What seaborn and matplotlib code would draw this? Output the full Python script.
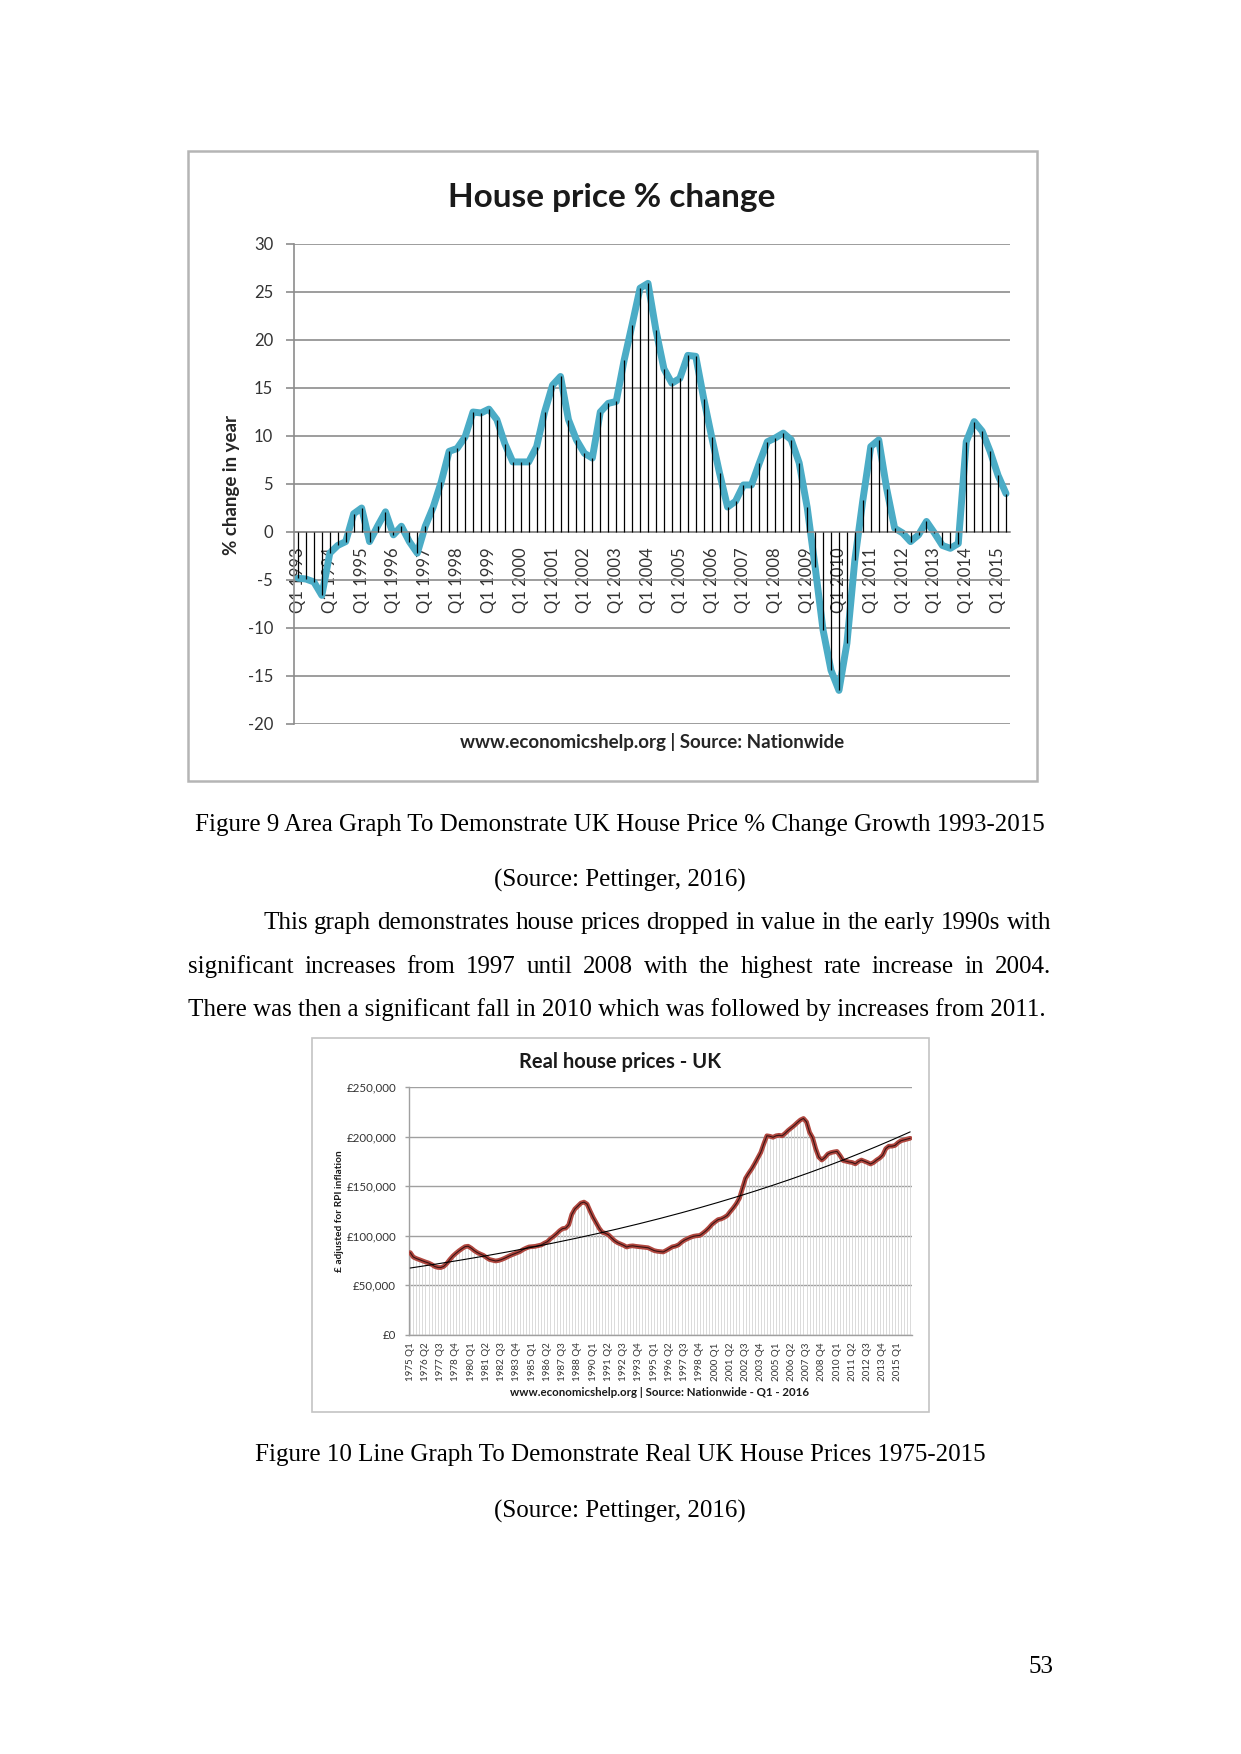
import numpy as np
import pandas as pd
import matplotlib
matplotlib.use("Agg")
import matplotlib.pyplot as plt
import seaborn as sns
from matplotlib.patches import Rectangle

# --- data: house price % change, quarterly Q1 1993 .. Q2 2015 ---
pct_change = [
    -4.8, -4.9, -5.2, -6.6, -2.2, -1.4, -1.0, 1.9, 2.5, -1.0,
    0.6, 2.1, -0.3, 0.6, -1.0, -2.2, 0.6, 2.6, 5.2, 8.4,
    8.7, 9.9, 12.5, 12.4, 12.8, 11.7, 9.2, 7.3, 7.3, 7.3,
    8.9, 12.5, 15.3, 16.2, 11.7, 9.6, 8.2, 7.7, 12.5, 13.4,
    13.6, 17.9, 21.6, 25.4, 25.9, 21.0, 17.0, 15.5, 16.0, 18.4,
    18.3, 13.9, 9.9, 6.1, 2.6, 3.2, 4.9, 4.9, 7.2, 9.4,
    9.8, 10.3, 9.6, 7.2, 2.6, -3.6, -10.2, -14.4, -16.5, -11.6,
    -2.9, 3.3, 8.9, 9.6, 4.5, 0.4, -0.1, -1.0, -0.3, 1.1,
    -0.1, -1.4, -1.7, -1.2, 9.4, 11.5, 10.5, 8.4, 5.9, 4.0,
]
pct_years = list(range(1993, 2016))
pct_tick_labels = [f"Q1 {y}" for y in pct_years]

# --- data: real house prices (£, RPI adjusted), quarterly 1975 Q1 .. 2016 Q1 ---
house_price = [
    83000, 78500, 77000, 75800,  74500, 73500, 72500, 71000,
    69000, 68000, 67800, 69000,  72000, 76000, 79500, 82300,
    84800, 87000, 89000, 89400,  87500, 85000, 83000, 81500,
    80200, 78000, 76000, 75200,  74500, 75000, 76000, 77300,
    78800, 80300, 81500, 82600,  84000, 86000, 87500, 88700,
    89000, 89300, 90000, 90700,  92500, 94000, 97000, 99300,
    102000, 105000, 107200, 107700,  111000, 121500, 127000, 130000,
    133000, 134000, 132000, 125000,  118500, 113000, 107500, 103500,
    102500, 101000, 98000, 95000,  93000, 91700, 90300, 88600,
    89500, 89800, 89300, 89000,  88600, 88200, 87900, 86500,
    85000, 84300, 84000, 83600,  85200, 87000, 88800, 89500,
    90800, 93500, 95600, 97000,  98500, 99500, 100000, 100300,
    102500, 105000, 108000, 111500,  114000, 116300, 117000, 118500,
    120500, 124500, 128200, 132500,  138000, 148000, 158000, 163000,
    167500, 172800, 178500, 184200,  193000, 201000, 200500, 199500,
    201000, 201500, 201000, 203500,  206500, 209000, 211500, 214400,
    217000, 218500, 215000, 204500,  199000, 188000, 179500, 176500,
    179000, 182600, 184000, 184700,  185200, 181000, 176000, 175200,
    174500, 174000, 172600, 175000,  176500, 175300, 174000, 172500,
    174000, 176500, 178500, 181500,  188000, 190500, 190500, 191200,
    194000, 196000, 196800, 197500,  198500,
]
price_quarters = [f"{1975 + i // 4} Q{i % 4 + 1}" for i in range(len(house_price))]

W, H = 1241, 1754
sns.set_theme(style="white")
plt.rcParams["font.family"] = ["Lato", "DejaVu Sans"]
plt.rcParams["axes.unicode_minus"] = False

fig = plt.figure(figsize=(W / 100, H / 100), dpi=100)


def fy(py):
    return 1 - py / H


def frame(x0, y0, x1, y1, color, lw):
    fig.add_artist(Rectangle((x0 / W, fy(y1)), (x1 - x0) / W, (y1 - y0) / H,
                             transform=fig.transFigure, fill=False, ec=color, lw=lw))


# ---------------- chart 1: house price % change ----------------
grid_c = "#8c8c8c"
df1 = pd.DataFrame({"q": np.arange(len(pct_change)), "pct": pct_change})
ax1 = fig.add_axes([294 / W, fy(724), 716 / W, 480 / H])
sns.lineplot(data=df1, x="q", y="pct", color="#4bacc6", lw=5, ax=ax1, zorder=2)
ax1.vlines(df1["q"], 0, df1["pct"], color="black", lw=0.9, zorder=3)
ax1.set_xlim(-0.5, len(pct_change) - 0.5)
ax1.set_ylim(-20, 30)
ax1.set_yticks(range(-20, 31, 5))
ax1.grid(axis="y", color=grid_c, lw=1.2)
ax1.grid(axis="x", visible=False)
ax1.set_axisbelow(True)
for s in ["top", "right"]:
    ax1.spines[s].set_visible(False)
ax1.spines["left"].set_color(grid_c)
ax1.spines["left"].set_linewidth(1.2)
ax1.spines["bottom"].set_position(("data", 0))
ax1.spines["bottom"].set_color(grid_c)
ax1.spines["bottom"].set_linewidth(1.2)
ax1.set_xticks(range(0, len(pct_change), 4))
ax1.set_xticklabels(pct_tick_labels, rotation=90)
ax1.tick_params(axis="x", length=0, pad=11, labelsize=12, labelcolor="#333333")
ax1.tick_params(axis="y", left=True, length=6, width=1.2, color=grid_c, pad=9,
                labelsize=12, labelcolor="#333333")
ax1.set_xlabel("")
ax1.set_ylabel("")
fig.text(231.5 / W, fy(484.5), "% change in year", rotation=90, ha="center", va="center",
         fontsize=13.5, fontweight="bold", color="#262626")
fig.text(612 / W, fy(197), "House price % change", ha="center", va="center",
         fontsize=24, fontweight="bold", color="#1a1a1a")
fig.text(652 / W, fy(742), "www.economicshelp.org | Source: Nationwide", ha="center",
         va="center", fontsize=13.5, fontweight="bold", color="#262626")
frame(188, 151, 1037, 781, "#b5b5b5", 1.8)

# ---------------- chart 2: real house prices ----------------
df2 = pd.DataFrame({"q": np.arange(len(house_price)), "price": house_price})
coef = np.polyfit(df2["q"], np.log(df2["price"]), 1)
df2["trend"] = np.exp(np.polyval(coef, df2["q"]))

ax2 = fig.add_axes([408.7 / W, fy(1334.7), 503 / W, 247.4 / H])
ax2.vlines(df2["q"], 0, df2["price"], color="#d4d4d4", lw=0.6, zorder=1)
sns.lineplot(data=df2, x="q", y="price", color="#b0473f", lw=3.4, ax=ax2, zorder=3)
ax2.plot(df2["q"], df2["price"], color="#3b1414", lw=0.8, zorder=4)
sns.lineplot(data=df2, x="q", y="trend", color="black", lw=0.8, ax=ax2, zorder=5)
ax2.set_xlim(-0.5, len(house_price) - 0.5)
ax2.set_ylim(0, 250000)
ax2.set_yticks(range(0, 250001, 50000))
ax2.set_yticklabels([f"£{v:,}" for v in range(0, 250001, 50000)])
ax2.grid(axis="y", color="#a0a0a0", lw=1.0)
ax2.grid(axis="x", visible=False)
ax2.set_axisbelow(True)
for s in ["top", "right"]:
    ax2.spines[s].set_visible(False)
for s in ["left", "bottom"]:
    ax2.spines[s].set_color("#a0a0a0")
    ax2.spines[s].set_linewidth(1.0)
ax2.set_xticks(range(0, len(house_price), 5))
ax2.set_xticklabels(price_quarters[::5], rotation=90)
ax2.tick_params(axis="x", length=0, pad=5.5, labelsize=7, labelcolor="#333333")
ax2.tick_params(axis="y", left=True, length=3, width=1.0, color="#a0a0a0", pad=6,
                labelsize=8.3, labelcolor="#333333")
ax2.set_xlabel("")
ax2.set_ylabel("")
fig.text(340 / W, fy(1211), "£ adjusted for RPI inflation", rotation=90, ha="center",
         va="center", fontsize=7.3, fontweight="bold", color="#1a1a1a")
fig.text(620 / W, fy(1062), "Real house prices - UK", ha="center", va="center",
         fontsize=14.5, fontweight="bold", color="#1a1a1a")
fig.text(660 / W, fy(1392), "www.economicshelp.org | Source: Nationwide - Q1 - 2016",
         ha="center", va="center", fontsize=8.3, fontweight="bold", color="#1a1a1a")
frame(312, 1038, 929, 1412, "#c4c4c4", 1.2)

# ---------------- document text ----------------
serif = ["Liberation Serif", "DejaVu Serif"]
body = dict(fontsize=18, family=serif, color="black", va="center")


def justify(line, x0, x1, y):
    words = line.split()
    texts = [fig.text(0, fy(y), w, ha="left", **body) for w in words]
    fig.canvas.draw()
    r = fig.canvas.get_renderer()
    widths = [t.get_window_extent(r).width for t in texts]
    gap = (x1 - x0 - sum(widths)) / (len(words) - 1)
    x = x0
    for t, w in zip(texts, widths):
        t.set_x(x / W)
        x += w + gap


fig.text(620 / W, fy(824.7),
         "Figure 9 Area Graph To Demonstrate UK House Price % Change Growth 1993-2015",
         ha="center", **body)
fig.text(620 / W, fy(880.7), "(Source: Pettinger, 2016)", ha="center", **body)
justify("This graph demonstrates house prices dropped in value in the early 1990s with",
        263, 1051, 923.3)
justify("significant increases from 1997 until 2008 with the highest rate increase in 2004.",
        188, 1051, 967)
fig.text(188 / W, fy(1009.5),
         "There was then a significant fall in 2010 which was followed by increases from 2011.",
         ha="left", **body)
fig.text(620.5 / W, fy(1455),
         "Figure 10 Line Graph To Demonstrate Real UK House Prices 1975-2015",
         ha="center", **body)
fig.text(620 / W, fy(1511), "(Source: Pettinger, 2016)", ha="center", **body)
fig.text(1040.6 / W, fy(1667), "53", ha="center", **body)

fig.savefig("out.png", dpi=100, facecolor="white")
